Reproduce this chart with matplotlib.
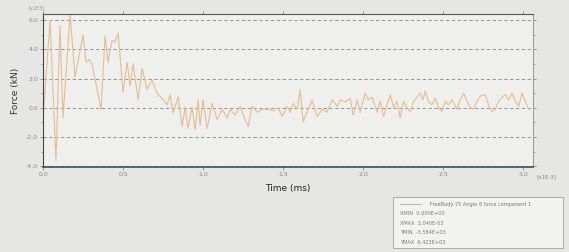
import numpy as np
from matplotlib import pyplot as plt
from matplotlib.patches import Rectangle
from matplotlib.lines import Line2D

# time in ms, force in kN
time_ms = [0.0, 0.044, 0.081, 0.106, 0.125, 0.169, 0.2, 0.25, 0.269, 0.288, 0.306,
           0.3625, 0.3875, 0.406, 0.431, 0.45, 0.469, 0.5, 0.525, 0.544, 0.5625,
           0.594, 0.619, 0.65, 0.681, 0.7125, 0.75, 0.775, 0.794, 0.8125, 0.844,
           0.869, 0.8875, 0.906, 0.931, 0.95, 0.969, 0.981, 1.0, 1.025, 1.056,
           1.0875, 1.119, 1.15, 1.169, 1.2, 1.231, 1.25, 1.281, 1.306, 1.3375,
           1.37, 1.4, 1.4375, 1.469, 1.494, 1.525, 1.544, 1.5625, 1.5875, 1.606,
           1.625, 1.656, 1.681, 1.7125, 1.744, 1.775, 1.806, 1.8375, 1.856, 1.8875,
           1.919, 1.9375, 1.9625, 1.981, 2.0125, 2.031, 2.056, 2.0875, 2.106, 2.127,
           2.148, 2.169, 2.19, 2.21, 2.231, 2.252, 2.273, 2.294, 2.315, 2.335,
           2.356, 2.373, 2.3875, 2.408, 2.429, 2.45, 2.471, 2.492, 2.5125, 2.533,
           2.554, 2.585, 2.606, 2.627, 2.648, 2.669, 2.69, 2.71, 2.731, 2.7625,
           2.783, 2.804, 2.825, 2.846, 2.867, 2.8875, 2.908, 2.929, 2.95, 2.971,
           2.992, 3.0125, 3.033, 3.04]
force_kn = [-0.8, 6.0, -3.6, 5.6, -0.7, 6.4, 2.1, 5.0, 3.1, 3.3, 3.0,
            -0.1, 4.9, 3.1, 4.6, 4.5, 5.1, 1.1, 3.1, 1.5, 3.0,
            0.55, 2.7, 1.25, 1.9, 1.0, 0.55, 0.2, 0.9, -0.35, 0.75,
            -1.3, 0.05, -1.4, 0.05, -1.5, 0.55, -1.2, 0.55, -1.4, 0.3,
            -0.8, -0.1, -0.7, -0.1, -0.5, 0.1, -0.5, -1.3, 0.1, -0.3,
            -0.1, -0.1, -0.2, 0.0, -0.6, 0.1, -0.3, 0.3, -0.1, 1.25,
            -0.95, -0.1, 0.55, -0.6, -0.1, -0.3, 0.55, 0.1, 0.55, 0.4,
            0.65, -0.5, 0.55, -0.3, 1.0, 0.55, 0.7, -0.3, 0.45, -0.6,
            0.2, 0.9, 0.0, 0.45, -0.7, 0.45, 0.0, -0.25, 0.45, 0.7,
            1.0, 0.55, 1.15, 0.45, 0.2, 0.65, 0.0, -0.25, 0.45, 0.2,
            0.55, -0.1, 0.55, 1.0, 0.45, 0.0, -0.1, 0.45, 0.8, 0.9,
            0.2, -0.25, -0.1, 0.45, 0.7, 0.9, 0.55, 1.0, 0.45, 0.1,
            1.0, 0.45, -0.1, -0.1]

x_ticks = [0.0, 0.5, 1.0, 1.5, 2.0, 2.5, 3.0]
y_ticks = [-4.0, -2.0, 0.0, 2.0, 4.0, 6.0]
legend_name = 'FreeBody-75 Angle 8 force component 1'
stats = ['XMIN  0.000E+00', 'XMAX  3.040E-03', 'YMIN  -3.584E+03', 'YMAX  6.423E+03']

fig = plt.figure(figsize=(5.69, 2.52), dpi=100, facecolor='#e6e6e4')
ax = fig.add_axes([0.0756, 0.337, 0.861, 0.607], facecolor='#efefed')

ax.plot(time_ms, force_kn, color='#e5bd90', linewidth=0.8)

ax.set_xlim(0, 3.06)
ax.set_ylim(-4.05, 6.4)
ax.set_xticks(x_ticks)
ax.set_xticklabels(['%.1f' % v for v in x_ticks])
ax.set_yticks(y_ticks)
ax.set_yticklabels(['%.1f' % v for v in y_ticks])
ax.set_yticks(np.arange(-3.0, 6.5, 2.0), minor=True)
ax.tick_params(axis='both', labelsize=4.5, colors='#888888', length=2, width=0.6, pad=1.5)
ax.tick_params(axis='y', which='both', right=True)
ax.tick_params(axis='x', top=True)
ax.tick_params(which='minor', length=1.5, color='#999999')

for v in y_ticks:
    ax.axhline(v, color='#858585', linewidth=0.6, linestyle=(0, (4, 3)), zorder=0)

ax.spines['left'].set_color('#444444')
ax.spines['bottom'].set_color('#2d5a5a')
ax.spines['bottom'].set_linewidth(1.2)
ax.spines['top'].set_color('#555555')
ax.spines['right'].set_color('#888888')
ax.spines['right'].set_linewidth(0.6)

ax.set_xlabel('Time (ms)', fontsize=6.5, color='#222222', labelpad=5)
ax.set_ylabel('Force (kN)', fontsize=6.5, color='#333333', labelpad=4)
fig.text(0.05, 0.978, '[x1E3]', fontsize=3.5, color='#999999', ha='left', va='top')
fig.text(0.943, 0.30, '[x1E-3]', fontsize=4, color='#888888', ha='left', va='center')

# legend box at lower right
fig.patches.append(Rectangle((0.691, 0.016), 0.298, 0.202, transform=fig.transFigure,
                             facecolor='#f2f2f0', edgecolor='#a0a0a0', linewidth=0.6))
fig.lines.append(Line2D([0.703, 0.74], [0.19, 0.19], transform=fig.transFigure,
                        color='#aaaaaa', linewidth=0.6))
fig.text(0.755, 0.19, legend_name, fontsize=3.6, color='#777777', va='center')
for i, s in enumerate(stats):
    fig.text(0.703, 0.153 - i * 0.038, s, fontsize=3.6, color='#777777', va='center')

fig.savefig('out.png', dpi=100, facecolor=fig.get_facecolor())
